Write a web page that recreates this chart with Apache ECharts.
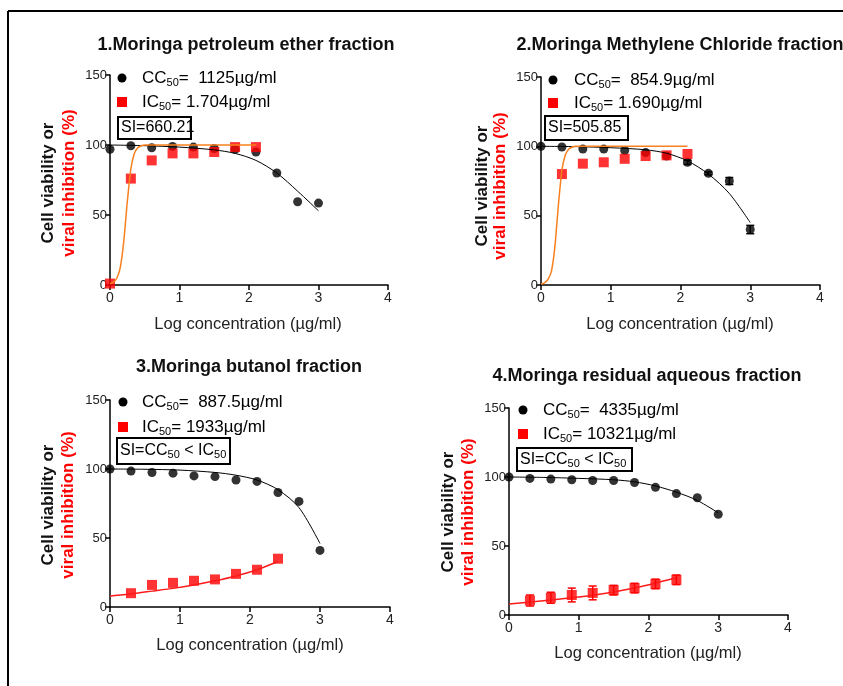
<!DOCTYPE html>
<html><head><meta charset="utf-8">
<script src="https://cdn.jsdelivr.net/npm/echarts@6/dist/echarts.min.js"></script>
<style>html,body{margin:0;padding:0;background:#fff}#c{width:843px;height:686px}</style>
</head><body><div id="c"></div>
<script>
// ---- data ----
const logConc = [0, 0.3, 0.6, 0.9, 1.2, 1.5, 1.8, 2.1, 2.4, 2.7, 3.0];
const fitX = [0, 0.5, 1, 1.5, 1.8, 2.1, 2.4, 2.7, 3.0];
const sigX = [0, 0.05, 0.1, 0.15, 0.2, 0.25, 0.3, 0.35, 0.4, 0.45, 0.5, 2.1];
const xTicks = [0, 1, 2, 3, 4];
const yTicks = [0, 50, 100, 150];

const titles = ['1.Moringa petroleum ether fraction', '2.Moringa Methylene Chloride fraction',
                '3.Moringa butanol fraction', '4.Moringa residual aqueous fraction'];
const cc50Text = ['1125µg/ml', '854.9µg/ml', '887.5µg/ml', '4335µg/ml'];
const ic50Text = ['1.704µg/ml', '1.690µg/ml', '1933µg/ml', '10321µg/ml'];

// Panel 1
const cc1 = [97, 99.5, 98, 99, 98.5, 97.5, 97, 95, 80, 59.5, 58.5];
const ic1X = [0, 0.3, 0.6, 0.9, 1.2, 1.5, 1.8, 2.1];
const ic1 = [1, 76, 89, 94, 94, 95, 98.5, 98.5];
const ccFit1 = [100, 99.5, 98.5, 96.5, 94, 89, 80, 67, 53];
const icFit1 = [1, 2, 5, 13, 32, 60, 83, 94, 98, 99.5, 100, 100];
// Panel 2
const cc2 = [100, 99.5, 98, 98, 97, 95.5, 93, 88.5, 80.5, 75, 40];
const cc2Err = [0, 0, 0, 0, 0, 0, 0, 1.5, 1, 2.5, 3];
const ic2X = [0.3, 0.6, 0.9, 1.2, 1.5, 1.8, 2.1];
const ic2 = [80, 87.5, 88.5, 91, 93, 93.5, 94.5];
const ccFit2 = [100, 99.8, 99, 97.5, 95, 89.5, 80, 66, 45];
const icFit2 = [0.5, 1.5, 4, 10, 28, 58, 83, 94, 98, 99.5, 100, 100];
// Panel 3
const cc3 = [100, 98.5, 97.5, 97, 95, 94.5, 92, 91, 83, 76.5, 41];
const ic34X = [0.3, 0.6, 0.9, 1.2, 1.5, 1.8, 2.1, 2.4];
const ic3 = [10, 16, 17.5, 19, 20, 24, 27, 35];
const ccFit3 = [100, 99.8, 99.2, 97.5, 95.5, 92, 85, 72, 46];
const icFit3X = [0, 0.3, 0.6, 0.9, 1.2, 1.5, 1.8, 2.1, 2.4];
const icFit3 = [8, 9.5, 11.5, 13.5, 16, 19, 22.5, 27, 33];
// Panel 4
const cc4 = [100, 99, 98.5, 98, 97.5, 97.5, 96, 92.5, 88, 85, 73];
const ic4 = [10.5, 12.5, 14.5, 16, 18, 19.5, 22.5, 25.5];
const ic4Err = [4, 4, 5, 5, 3.5, 3.5, 3.5, 3.5];
const ccFit4 = [100, 99.7, 99, 98, 96.5, 93.5, 89, 83, 74];
const icFit4X = [0, 0.6, 1.2, 1.8, 2.4];
const icFit4 = [8, 10.8, 14.3, 19.5, 27];

// ---- layout ----
const grids = [
  {left: 110, top: 75, width: 278, height: 210},
  {left: 541, top: 77, width: 279, height: 208},
  {left: 110, top: 400, width: 280, height: 207},
  {left: 509, top: 408, width: 279, height: 207}
];
const zip = (a, b) => a.map((v, i) => [v, b[i]]);
const FONT = 'Arial, "Liberation Sans", sans-serif';

const panels = [
  {cc: zip(logConc, cc1), ic: zip(ic1X, ic1), ccFit: zip(fitX, ccFit1), icFit: zip(sigX, icFit1), icColor: '#f7811f', ccErr: null, icErr: null},
  {cc: zip(logConc, cc2), ic: zip(ic2X, ic2), ccFit: zip(fitX, ccFit2), icFit: zip(sigX, icFit2), icColor: '#f7811f', ccErr: cc2Err, icErr: null},
  {cc: zip(logConc, cc3), ic: zip(ic34X, ic3), ccFit: zip(fitX, ccFit3), icFit: zip(icFit3X, icFit3), icColor: '#ff1a1a', ccErr: null, icErr: null},
  {cc: zip(logConc, cc4), ic: zip(ic34X, ic4), ccFit: zip(fitX, ccFit4), icFit: zip(icFit4X, icFit4), icColor: '#ff1a1a', ccErr: null, icErr: ic4Err}
];

const xAxis = [], yAxis = [], series = [];
grids.forEach((g, i) => {
  xAxis.push({
    gridIndex: i, type: 'value', min: xTicks[0], max: xTicks[xTicks.length - 1], interval: 1,
    axisLine: {onZero: false, lineStyle: {color: '#000', width: 1.5}},
    axisTick: {show: true, length: 5, lineStyle: {color: '#000', width: 1.5}},
    axisLabel: {color: '#222', fontSize: 14, fontFamily: FONT, margin: 6},
    splitLine: {show: false}
  });
  yAxis.push({
    gridIndex: i, type: 'value', min: yTicks[0], max: yTicks[yTicks.length - 1], interval: 50,
    axisLine: {show: true, onZero: false, lineStyle: {color: '#000', width: 1.5}},
    axisTick: {show: true, length: 5, lineStyle: {color: '#000', width: 1.5}},
    axisLabel: {color: '#222', fontSize: 13, fontFamily: FONT, margin: 3},
    splitLine: {show: false}
  });
  const p = panels[i];
  series.push({type: 'scatter', xAxisIndex: i, yAxisIndex: i, data: p.cc, symbol: 'circle', symbolSize: 9,
    itemStyle: {color: '#000'}, z: 3, silent: true});
  series.push({type: 'scatter', xAxisIndex: i, yAxisIndex: i, data: p.ic, symbol: 'rect', symbolSize: 10,
    itemStyle: {color: '#ff0000'}, z: 4, silent: true});
  series.push({type: 'line', xAxisIndex: i, yAxisIndex: i, data: p.ccFit, smooth: 0.3, symbol: 'none',
    lineStyle: {color: '#000', width: 1}, z: 5, silent: true});
  series.push({type: 'line', xAxisIndex: i, yAxisIndex: i, data: p.icFit, smooth: 0.2, symbol: 'none',
    lineStyle: {color: p.icColor, width: 1.5}, z: 5, silent: true});
  const errSets = [];
  if (p.ccErr) errSets.push({pts: p.cc, err: p.ccErr, color: '#000'});
  if (p.icErr) errSets.push({pts: p.ic, err: p.icErr, color: '#ff0000'});
  errSets.forEach(es => {
    series.push({
      type: 'custom', xAxisIndex: i, yAxisIndex: i, z: 6, silent: true,
      data: es.pts.map((pt, k) => [pt[0], pt[1] - es.err[k], pt[1] + es.err[k]]).filter((d, k) => es.err[k] > 0),
      renderItem: (params, api) => {
        const lo = api.coord([api.value(0), api.value(1)]);
        const hi = api.coord([api.value(0), api.value(2)]);
        const w = 4;
        const st = {stroke: es.color, lineWidth: 1.5};
        return {type: 'group', children: [
          {type: 'line', shape: {x1: lo[0], y1: lo[1], x2: hi[0], y2: hi[1]}, style: st},
          {type: 'line', shape: {x1: lo[0] - w, y1: lo[1], x2: lo[0] + w, y2: lo[1]}, style: st},
          {type: 'line', shape: {x1: hi[0] - w, y1: hi[1], x2: hi[0] + w, y2: hi[1]}, style: st}
        ]};
      }
    });
  });
});

// ---- text / decorations ----
const titlePos = [[246, 45], [680, 45], [249, 367], [647, 376]];
const xNamePos = [[248, 324], [680, 324], [250, 645], [648, 653]];
const yNamePos = [ // [blackX, redX, centerY]
  [48, 69, 183], [482, 500, 186], [48, 68, 505], [448, 468, 512]
];
const legPos = [ // dot [x,y], square y, text x
  [122, 78, 102, 142], [553, 80, 103, 574], [123, 402, 427, 142], [523, 410, 434, 543]
];
const siBox = [ // x, y, w, h
  [118, 117, 73, 22], [545, 116, 83, 24], [117, 438, 113, 26], [517, 448, 115, 23]
];
const siText = [
  '{a|SI=660.21}', '{a|SI=505.85}', '{a|SI=CC}{s|50}{a| < IC}{s|50}', '{a|SI=CC}{s|50}{a| < IC}{s|50}'
];

const rich = {
  a: {fontSize: 17, fontFamily: FONT, color: '#45454f'},
  s: {fontSize: 11, fontFamily: FONT, color: '#45454f', padding: [9, 0, 0, 0]}
};

const graphic = [
  {type: 'line', shape: {x1: 8, y1: 11, x2: 843, y2: 11}, style: {stroke: '#000', lineWidth: 2}},
  {type: 'line', shape: {x1: 8, y1: 11, x2: 8, y2: 686}, style: {stroke: '#000', lineWidth: 2}}
];
for (let i = 0; i < 4; i++) {
  graphic.push({type: 'text', x: titlePos[i][0], y: titlePos[i][1],
    style: {text: titles[i], font: 'bold 18px ' + FONT, fill: '#111', align: 'center', verticalAlign: 'middle'}});
  graphic.push({type: 'text', x: xNamePos[i][0], y: xNamePos[i][1],
    style: {text: 'Log concentration (µg/ml)', font: '16.5px ' + FONT, fill: '#222', align: 'center', verticalAlign: 'middle'}});
  graphic.push({type: 'text', x: yNamePos[i][0], y: yNamePos[i][2], rotation: Math.PI / 2,
    style: {text: 'Cell viability or', font: 'bold 17px ' + FONT, fill: '#111', align: 'center', verticalAlign: 'middle'}});
  graphic.push({type: 'text', x: yNamePos[i][1], y: yNamePos[i][2], rotation: Math.PI / 2,
    style: {text: 'viral inhibition (%)', font: 'bold 17px ' + FONT, fill: '#ff0000', align: 'center', verticalAlign: 'middle'}});
  const L = legPos[i];
  graphic.push({type: 'circle', shape: {cx: L[0], cy: L[1], r: 4.5}, style: {fill: '#000'}});
  graphic.push({type: 'rect', shape: {x: L[0] - 5, y: L[2] - 5, width: 10, height: 10}, style: {fill: '#ff0000'}});
  graphic.push({type: 'text', x: L[3], y: L[1], style: {text: '{a|CC}{s|50}{a|=  ' + cc50Text[i] + '}', rich: rich, verticalAlign: 'middle'}});
  graphic.push({type: 'text', x: L[3], y: L[2], style: {text: '{a|IC}{s|50}{a|= ' + ic50Text[i] + '}', rich: rich, verticalAlign: 'middle'}});
  const B = siBox[i];
  graphic.push({type: 'rect', shape: {x: B[0], y: B[1], width: B[2], height: B[3]}, style: {fill: '#fff', stroke: '#000', lineWidth: 2}, z: 10});
  graphic.push({type: 'text', x: B[0] + 3, y: B[1] + B[3] / 2, z: 11,
    style: {text: siText[i], rich: {a: {fontSize: 16, fontFamily: FONT, color: '#222'}, s: {fontSize: 11, fontFamily: FONT, color: '#222', padding: [8, 0, 0, 0]}}, verticalAlign: 'middle'}});
}

const chart = echarts.init(document.getElementById('c'), null, {renderer: 'canvas'});
chart.setOption({
  animation: false,
  backgroundColor: '#fff',
  grid: grids.map(g => Object.assign({containLabel: false}, g)),
  xAxis, yAxis, series, graphic
});
</script></body></html>
